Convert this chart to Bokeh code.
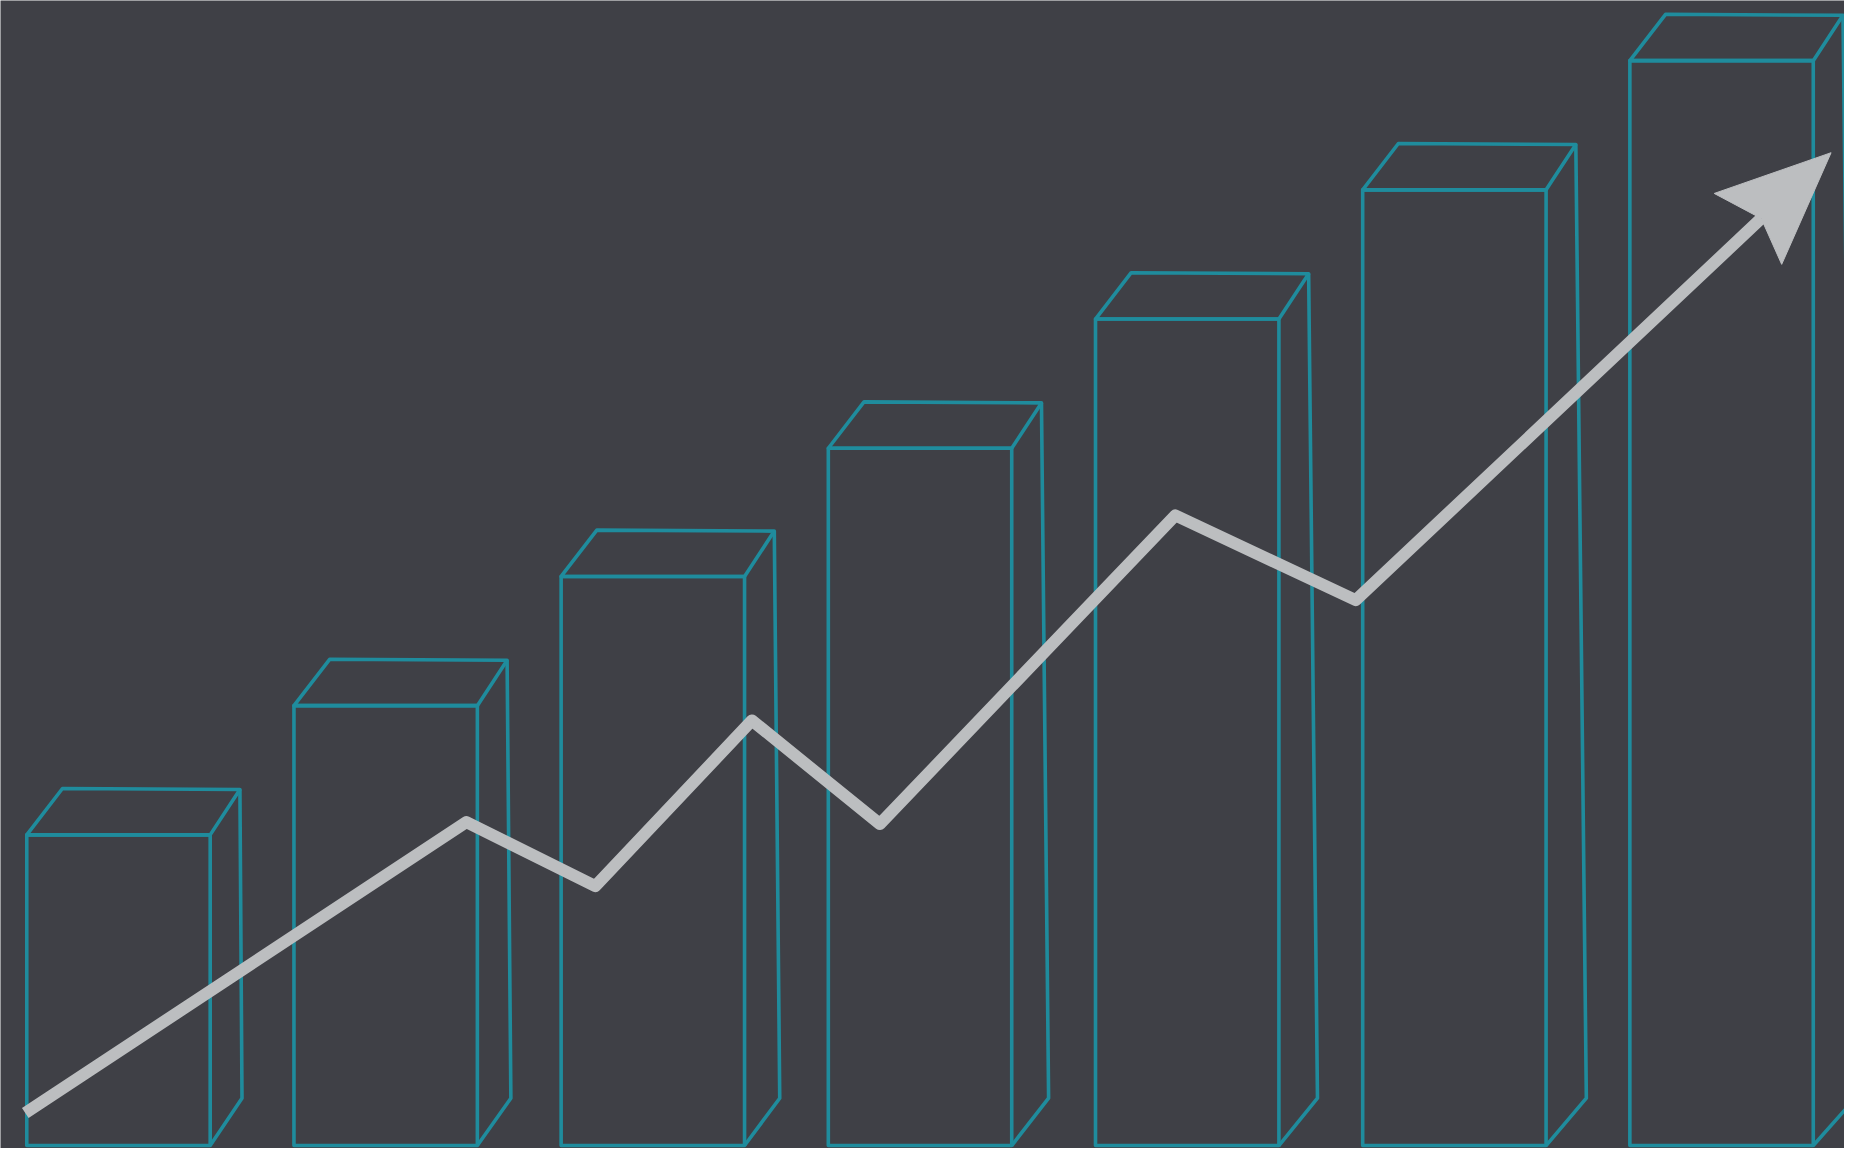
import numpy as np
from bokeh.plotting import figure
from bokeh.models import Range1d
from bokeh.embed import file_html
from bokeh.resources import INLINE

# ---- data ----
periods = ["1", "2", "3", "4", "5", "6", "7"]
bar_values = [315, 446, 577, 707, 838, 969, 1100]          # bar heights
trend_x = [25, 470, 600, 758, 887, 1185, 1367, 1776]       # trend line positions
trend_y = [33, 328, 263, 431, 326, 639, 553, 940]          # trend line values

# ---- style / layout constants ----
BG = "#3f4046"
TEAL = "#1f8c9d"
GREY = "#bcbec0"
X0, STEP, W = 26.5, 269.5, 185.0
BACK_L = (36.0, 47.0)
BACK_R = (30.0, 46.0)
BASE_BACK = 48.0
TEAL_W = 3.6

p = figure(width=1844, height=1148, output_backend="svg", toolbar_location=None,
           x_range=Range1d(0, 1860), y_range=Range1d(-3, 1161),
           min_border=0, background_fill_color=BG, border_fill_color=BG,
           outline_line_color=None)
p.axis.visible = False
p.grid.visible = False

idx = np.arange(len(periods))
h = np.array(bar_values, dtype=float)
left = X0 + idx * STEP
right = left + W
skew = 0.013 * h - 2.0

# front faces
p.quad(left=left, right=right, bottom=np.zeros_like(h), top=h,
       fill_alpha=0, line_color=TEAL, line_width=TEAL_W, line_join="round")

# top faces
top_xs = [[l, l + BACK_L[0], r + BACK_R[0], r] for l, r in zip(left, right)]
top_ys = [[v, v + BACK_L[1], v + BACK_R[1], v] for v in h]
p.patches(top_xs, top_ys, fill_alpha=0, line_color=TEAL, line_width=TEAL_W, line_join="round")

# right side faces
side_xs = [[r + BACK_R[0], r + BACK_R[0] + s, r] for r, s in zip(right, skew)]
side_ys = [[v + BACK_R[1], BASE_BACK, 0.0] for v in h]
p.multi_line(side_xs, side_ys, line_color=TEAL, line_width=TEAL_W, line_join="round")

# trend line
p.line(trend_x, trend_y, line_color=GREY, line_width=12, line_join="round", line_cap="butt")

# arrow head from the direction of the last segment
end = np.array([trend_x[-1], trend_y[-1]], dtype=float)
prev = np.array([trend_x[-2], trend_y[-2]], dtype=float)
u = (end - prev) / np.linalg.norm(end - prev)
n = np.array([-u[1], u[0]])
tip = end + 97 * u
w1 = end - 17 * u + 51 * n
w2 = end - 17 * u - 48 * n
p.patch([tip[0], w1[0], end[0], w2[0]], [tip[1], w1[1], end[1], w2[1]],
        fill_color=GREY, line_color=GREY, line_width=1)

open("out.html", "w").write(file_html(p, INLINE))
